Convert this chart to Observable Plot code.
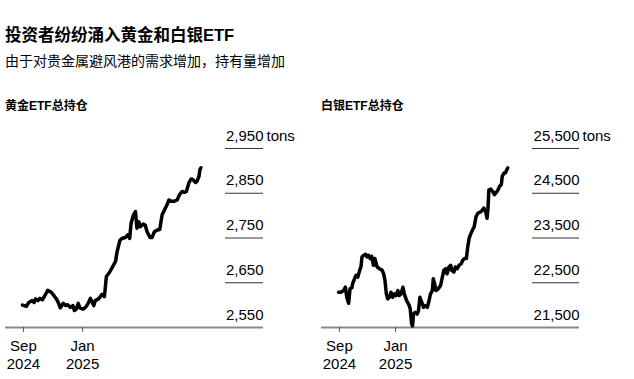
<!DOCTYPE html>
<html>
<head>
<meta charset="utf-8">
<script src="https://cdn.jsdelivr.net/npm/d3@7"></script>
<script src="https://cdn.jsdelivr.net/npm/@observablehq/plot@0.6"></script>
<style>
  html, body { margin: 0; padding: 0; background: #fff; }
  body { width: 634px; height: 379px; position: relative; overflow: hidden;
         font-family: "Liberation Sans", Arial, "Noto Sans CJK SC", sans-serif; color: #000; }
  .t { position: absolute; white-space: nowrap; }
  #title { left: 5px; top: 25px; font-size: 16.5px; line-height: 20px; font-weight: bold; }
  #subtitle { left: 5px; top: 52px; font-size: 14px; line-height: 18px; }
  .ptitle { top: 99px; font-size: 12px; line-height: 15px; font-weight: bold; }
  #gold { position: absolute; left: 0; top: 115px; }
  #silver { position: absolute; left: 316px; top: 115px; }
</style>
</head>
<body>
<div class="t" id="title">投资者纷纷涌入黄金和白银ETF</div>
<div class="t" id="subtitle">由于对贵金属避风港的需求增加，持有量增加</div>
<div class="t ptitle" style="left:5px">黄金ETF总持仓</div>
<div class="t ptitle" style="left:321px">白银ETF总持仓</div>
<div id="gold"></div>
<div id="silver"></div>
<script>
const goldDates = ["2024-08-30","2024-09-07","2024-09-12","2024-09-19","2024-09-23","2024-09-26","2024-10-01","2024-10-05","2024-10-10","2024-10-15","2024-10-21","2024-10-28","2024-11-03","2024-11-08","2024-11-13","2024-11-16","2024-11-22","2024-11-27","2024-12-01","2024-12-07","2024-12-12","2024-12-15","2024-12-19","2024-12-23","2024-12-26","2025-01-02","2025-01-07","2025-01-12","2025-01-17","2025-01-21","2025-01-24","2025-01-27","2025-02-03","2025-02-10","2025-02-15","2025-02-19","2025-02-26","2025-03-03","2025-03-10","2025-03-13","2025-03-19","2025-03-23","2025-03-30","2025-04-04","2025-04-08","2025-04-11","2025-04-16","2025-04-20","2025-04-23","2025-04-27","2025-04-30","2025-05-06","2025-05-10","2025-05-14","2025-05-20","2025-05-24","2025-05-29","2025-06-04","2025-06-09","2025-06-14","2025-06-19","2025-06-24","2025-06-28","2025-07-02","2025-07-08","2025-07-15","2025-07-20","2025-07-25","2025-07-30","2025-08-03","2025-08-08","2025-08-13","2025-08-17","2025-08-22","2025-08-25","2025-08-29","2025-08-31","2025-09-02"];
const goldValues = [2600,2597,2606,2610,2606,2614,2610,2615,2612,2621,2633,2629,2621,2614,2603,2594,2604,2599,2601,2595,2599,2588,2591,2604,2594,2591,2595,2603,2615,2606,2599,2610,2614,2624,2619,2664,2674,2684,2698,2719,2745,2749,2751,2757,2749,2783,2802,2809,2772,2786,2775,2781,2779,2764,2751,2751,2764,2768,2769,2802,2813,2824,2835,2832,2832,2835,2847,2854,2852,2854,2873,2882,2880,2874,2877,2888,2903,2907];

const silverDates = ["2024-08-30","2024-09-04","2024-09-10","2024-09-14","2024-09-17","2024-09-21","2024-09-24","2024-09-28","2024-09-30","2024-10-03","2024-10-07","2024-10-11","2024-10-14","2024-10-18","2024-10-20","2024-10-24","2024-10-28","2024-10-31","2024-11-03","2024-11-07","2024-11-10","2024-11-14","2024-11-17","2024-11-22","2024-11-27","2024-12-03","2024-12-06","2024-12-09","2024-12-12","2024-12-15","2024-12-19","2024-12-22","2024-12-26","2024-12-30","2025-01-02","2025-01-06","2025-01-09","2025-01-13","2025-01-17","2025-01-20","2025-01-25","2025-01-30","2025-02-02","2025-02-05","2025-02-07","2025-02-09","2025-02-13","2025-02-17","2025-02-20","2025-02-23","2025-02-27","2025-03-03","2025-03-07","2025-03-11","2025-03-14","2025-03-18","2025-03-22","2025-03-24","2025-03-27","2025-03-30","2025-04-04","2025-04-09","2025-04-12","2025-04-16","2025-04-20","2025-04-23","2025-04-27","2025-05-01","2025-05-03","2025-05-08","2025-05-11","2025-05-15","2025-05-19","2025-05-24","2025-05-27","2025-05-31","2025-06-04","2025-06-07","2025-06-10","2025-06-14","2025-06-18","2025-06-21","2025-06-25","2025-06-29","2025-07-06","2025-07-12","2025-07-16","2025-07-19","2025-07-21","2025-07-23","2025-07-27","2025-07-31","2025-08-04","2025-08-08","2025-08-12","2025-08-15","2025-08-19","2025-08-21","2025-08-25","2025-08-28","2025-08-31","2025-09-02"];
const silverValues = [22289,22289,22326,22401,22176,22041,22364,22387,22492,22567,22664,22627,22739,22867,23077,23115,23137,23077,23115,23040,23092,22889,23040,22852,22814,22777,22702,22552,22251,22139,22176,22289,22176,22251,22214,22326,22214,22251,22401,22251,22101,22011,21914,21576,21538,21801,21838,21801,21876,22176,22064,21951,21989,21951,22064,22251,22326,22589,22477,22326,22364,22439,22589,22777,22814,22702,22852,22889,22777,22739,22852,22814,22889,22927,23002,23040,23040,23302,23490,23603,23693,23753,23978,24053,24090,24166,24090,23940,24166,24578,24594,24541,24466,24518,24578,24653,24691,24879,24954,24954,25029,25066];

const goldTicks = [2550, 2650, 2750, 2850, 2950];
const silverTicks = [21500, 22500, 23500, 24500, 25500];
const xTickDates = ["2024-09-01", "2025-01-01"];
const unitLabel = "tons";

const goldDomainX = ["2024-07-26", "2026-01-09"];
const silverDomainX = ["2024-07-24", "2026-02-05"];

const parse = d3.utcParse("%Y-%m-%d");
const fmtNum = d3.format(",");
const fmtDate = d3.utcFormat("%b\n%Y");
const FONT = '"Liberation Sans", Arial, "Noto Sans CJK SC", sans-serif';

function panel(dates, values, ticks, domainX, gridInset) {
  const data = dates.map((d, i) => ({date: parse(d), value: values[i]}));
  const top = ticks[ticks.length - 1];
  return Plot.plot({
    width: 317, height: 264,
    marginLeft: 5, marginRight: 54, marginTop: 33, marginBottom: 52,
    style: {fontFamily: FONT, fontSize: "15px", background: "transparent", overflow: "visible", color: "#000"},
    x: {type: "utc", domain: domainX.map(parse)},
    y: {domain: [ticks[0], top], axis: null},
    marks: [
      Plot.ruleY(ticks.slice(1), {insetLeft: gridInset, stroke: "#333", strokeWidth: 1}),
      Plot.ruleY([ticks[0]], {stroke: "#888", strokeWidth: 2}),
      Plot.text(ticks, {y: d => d, frameAnchor: "right", textAnchor: "end", lineAnchor: "bottom",
        text: d => fmtNum(d), dy: -8, fontSize: 15, fill: "#000"}),
      Plot.text([top], {y: d => d, frameAnchor: "right", textAnchor: "start", lineAnchor: "bottom",
        text: () => unitLabel, dx: 3, dy: -8, fontSize: 15, fill: "#000"}),
      Plot.axisX({ticks: xTickDates.map(parse), tickFormat: fmtDate, tickSize: 5, tickPadding: 6,
        stroke: "#555", fontSize: 15, lineHeight: 1.2, fill: "#000"}),
      Plot.line(data, {x: "date", y: "value", stroke: "#000", strokeWidth: 3.5,
        strokeLinejoin: "round", strokeLinecap: "round"})
    ]
  });
}

document.getElementById("gold").append(panel(goldDates, goldValues, goldTicks, goldDomainX, 220));
document.getElementById("silver").append(panel(silverDates, silverValues, silverTicks, silverDomainX, 211));
</script>
</body>
</html>
